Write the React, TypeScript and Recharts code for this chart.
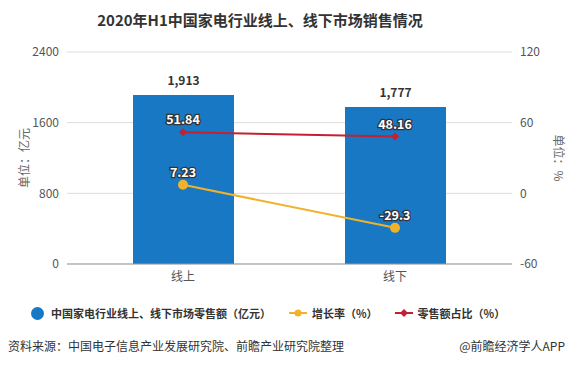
import React from 'react'
import {
  ComposedChart,
  Bar,
  Line,
  XAxis,
  YAxis,
  CartesianGrid,
  LabelList,
} from 'recharts'

const categories = ['线上', '线下']
const retailSales = [1913, 1777]
const growthRate = [7.23, -29.3]
const shareRate = [51.84, 48.16]
const leftTicks = [0, 800, 1600, 2400]
const rightTicks = [-60, 0, 60, 120]

const data = categories.map((name, i) => ({
  name,
  sales: retailSales[i],
  growth: growthRate[i],
  share: shareRate[i],
}))

const FONT = '"Noto Sans CJK SC", "Noto Sans", sans-serif'
const BAR_COLOR = '#1878c4'
const GROWTH_COLOR = '#f0b22a'
const SHARE_COLOR = '#c41f33'

const fmt = (v: number) => v.toLocaleString('en-US')

const OutlinedLabel = (props: any) => {
  const { x, y, value } = props
  return (
    <text
      x={x}
      y={y - 8}
      textAnchor="middle"
      fontSize={12.5}
      fontWeight="bold"
      fontFamily={FONT}
      fill="#fff"
      stroke="#333"
      strokeWidth={2.5}
      paintOrder="stroke"
    >
      {value}
    </text>
  )
}

const Diamond = (props: any) => {
  const { cx, cy } = props
  return (
    <path
      d={`M${cx},${cy - 4} L${cx + 4},${cy} L${cx},${cy + 4} L${cx - 4},${cy} Z`}
      fill={SHARE_COLOR}
    />
  )
}

export default function App() {
  return (
    <div
      style={{
        position: 'absolute',
        left: 0,
        top: 0,
        width: 570,
        height: 366,
        background: '#fff',
        fontFamily: FONT,
      }}
    >
      <div
        style={{
          position: 'absolute',
          top: 9,
          width: 520,
          textAlign: 'center',
          fontSize: 15,
          fontWeight: 'bold',
          color: '#333',
        }}
      >
        2020年H1中国家电行业线上、线下市场销售情况
      </div>
      <ComposedChart
        width={570}
        height={366}
        data={data}
        margin={{ top: 52, right: 8, left: 17, bottom: 72 }}
      >
        <CartesianGrid vertical={false} stroke="#ddd" yAxisId="left" />
        <XAxis
          dataKey="name"
          axisLine={{ stroke: '#999' }}
          tickLine={false}
          height={30}
          padding={{ left: 10, right: 11 }}
          tick={{ fontSize: 12, fill: '#555', fontFamily: FONT }}
        />
        <YAxis
          yAxisId="left"
          width={50}
          domain={[0, 2400]}
          ticks={leftTicks}
          axisLine={false}
          tickLine={false}
          tick={{ fontSize: 12, fill: '#555', fontFamily: FONT }}
          label={{
            value: '单位：亿元',
            angle: -90,
            position: 'insideLeft',
            offset: 0,
            dx: 8,
            style: { fontSize: 12, fill: '#666', fontFamily: FONT, textAnchor: 'middle' },
          }}
        />
        <YAxis
          yAxisId="right"
          orientation="right"
          width={50}
          domain={[-60, 120]}
          ticks={rightTicks}
          axisLine={false}
          tickLine={false}
          tick={{ fontSize: 12, fill: '#555', fontFamily: FONT }}
          label={{
            value: '单位：%',
            angle: 90,
            position: 'insideRight',
            offset: 0,
            dx: -4,
            style: { fontSize: 12, fill: '#666', fontFamily: FONT, textAnchor: 'middle' },
          }}
        />
        <Bar
          yAxisId="left"
          dataKey="sales"
          fill={BAR_COLOR}
          barSize={101}
          isAnimationActive={false}
        >
          <LabelList
            dataKey="sales"
            position="top"
            offset={10}
            formatter={(v: any) => fmt(Number(v))}
            style={{ fontSize: 12, fontWeight: 'bold', fill: '#333', fontFamily: FONT }}
          />
        </Bar>
        <Line
          yAxisId="right"
          dataKey="share"
          stroke={SHARE_COLOR}
          strokeWidth={2}
          dot={<Diamond />}
          isAnimationActive={false}
        >
          <LabelList dataKey="share" content={<OutlinedLabel />} />
        </Line>
        <Line
          yAxisId="right"
          dataKey="growth"
          stroke={GROWTH_COLOR}
          strokeWidth={2}
          dot={{ r: 4, fill: GROWTH_COLOR, stroke: GROWTH_COLOR }}
          isAnimationActive={false}
        >
          <LabelList dataKey="growth" content={<OutlinedLabel />} />
        </Line>
      </ComposedChart>
      <div
        style={{
          position: 'absolute',
          top: 305,
          left: 31,
          display: 'flex',
          alignItems: 'center',
          fontSize: 11,
          fontWeight: 600,
          color: '#333',
          whiteSpace: 'nowrap',
        }}
      >
        <span
          style={{
            width: 13,
            height: 13,
            borderRadius: '50%',
            background: BAR_COLOR,
            display: 'inline-block',
            marginRight: 7,
          }}
        />
        <span style={{ marginRight: 18 }}>中国家电行业线上、线下市场零售额（亿元）</span>
        <svg width={18} height={10} style={{ marginRight: 5 }}>
          <line x1={0} y1={5} x2={18} y2={5} stroke={GROWTH_COLOR} strokeWidth={2} />
          <circle cx={9} cy={5} r={3.5} fill={GROWTH_COLOR} />
        </svg>
        <span style={{ marginRight: 17 }}>增长率（%）</span>
        <svg width={18} height={10} style={{ marginRight: 5 }}>
          <line x1={0} y1={5} x2={18} y2={5} stroke={SHARE_COLOR} strokeWidth={2} />
          <path d="M9,1 L13,5 L9,9 L5,5 Z" fill={SHARE_COLOR} />
        </svg>
        <span>零售额占比（%）</span>
      </div>
      <div
        style={{
          position: 'absolute',
          top: 337,
          left: 8,
          fontSize: 12,
          color: '#333',
          whiteSpace: 'nowrap',
        }}
      >
        资料来源：中国电子信息产业发展研究院、前瞻产业研究院整理
      </div>
      <div
        style={{
          position: 'absolute',
          top: 337,
          right: 5,
          fontSize: 12,
          color: '#333',
          whiteSpace: 'nowrap',
        }}
      >
        @前瞻经济学人APP
      </div>
    </div>
  )
}
